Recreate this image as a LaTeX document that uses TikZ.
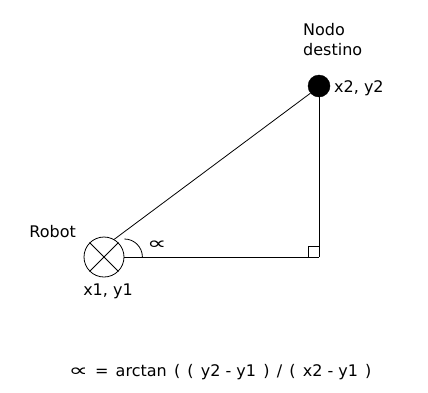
\documentclass[tikz,border=0pt]{standalone}
\usepackage{fontspec}
\setmainfont{DejaVu Sans}
\usepackage{graphicx}
\usepackage{tikz}
\usetikzlibrary{positioning}

\newcommand{\angsym}{\scalebox{1.7}[1.1]{∝}}
\newcommand{\gapsp}{\hspace{0.45em}}

\begin{document}
\begin{tikzpicture}[
  x=1pt, y=-1pt,
  robot/.style={circle, draw, thick, minimum size=40pt, inner sep=0pt},
  goal/.style={circle, draw, fill=black, minimum size=22pt, inner sep=0pt},
  label/.style={font=\fontsize{16}{20}\selectfont, inner sep=1pt},
  line/.style={draw, thick}
]
\useasboundingbox (0,0) rectangle (428,392);

\node[robot] (robot) at (104,257) {};
\draw[thick] (robot.north west) -- (robot.south east) (robot.north east) -- (robot.south west);
\node[goal] (goal) at (319,86) {};
\coordinate (corner) at (319,257);

\draw[line] (robot.east) -- (corner);
\draw[line] (corner) -- (goal.south);
\draw[line] (robot.60) -- (goal.220);
\draw[thick] (corner) ++(-11,0) -- ++(0,-11) -- ++(11,0);
\draw[thick] (robot.east) ++(18,0) arc[start angle=0, end angle=-90, radius=18];

\node[label, anchor=west] (alpha) at (146,245) {\angsym};
\node[label, anchor=east] (robotlbl) at (77,232) {Robot};
\node[label] (start) at (108,291) {x1, y1};
\node[label, anchor=south west, align=left] (destlbl) at (302,57) {Nodo\\destino};
\node[label, anchor=west] (goalxy) at (333,88) {x2, y2};
\node[label] (formula) at (220,372) {\angsym\gapsp=\gapsp arctan\gapsp(\gapsp(\gapsp y2 - y1\gapsp)\gapsp/\gapsp(\gapsp x2 - y1\gapsp)};
\end{tikzpicture}
\end{document}
